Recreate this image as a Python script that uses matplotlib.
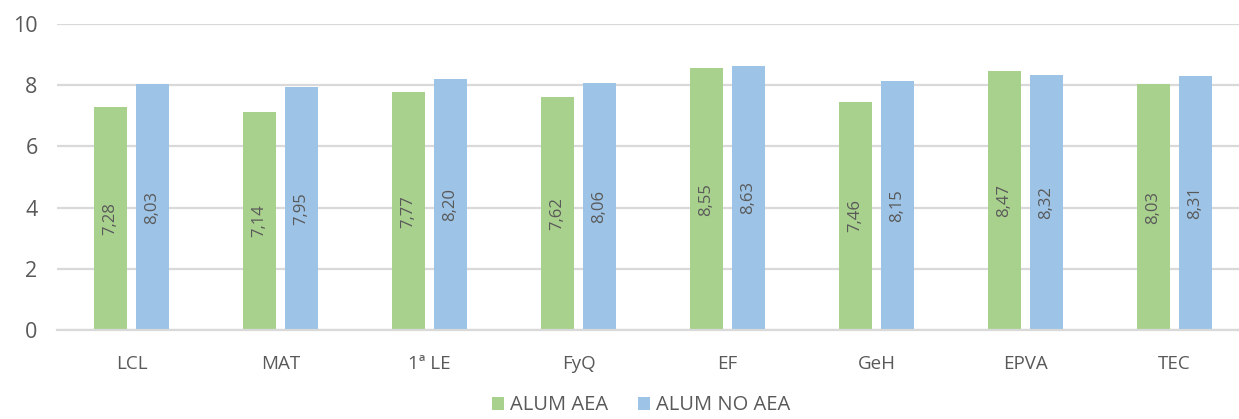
import matplotlib
matplotlib.use('Agg')
import matplotlib.pyplot as plt
import numpy as np

plt.rcParams['font.family'] = ['Open Sans', 'DejaVu Sans']

# data
categories = ['LCL', 'MAT', '1ª LE', 'FyQ', 'EF', 'GeH', 'EPVA', 'TEC']
alum_aea = [7.28, 7.14, 7.77, 7.62, 8.55, 7.46, 8.47, 8.03]
alum_no_aea = [8.03, 7.95, 8.20, 8.06, 8.63, 8.15, 8.32, 8.31]
series_names = ['ALUM AEA', 'ALUM NO AEA']

green = '#a9d18e'
blue = '#9dc3e6'
txt = '#595959'
grid = '#d9d9d9'

fig = plt.figure(figsize=(12.39, 4.19), dpi=100)
# plot area runs a little past the right edge, like the original
ax = fig.add_axes([0.046, 0.2124, 0.962, 0.7303])

x = np.arange(len(categories))
w = 0.222
off = 0.141
b1 = ax.bar(x - off, alum_aea, w, color=green, label=series_names[0], zorder=2)
b2 = ax.bar(x + off, alum_no_aea, w, color=blue, label=series_names[1], zorder=2)

for bars in (b1, b2):
    for r in bars:
        v = r.get_height()
        ax.text(r.get_x() + r.get_width() / 2, v / 2, ('%.2f' % v).replace('.', ','),
                rotation=90, ha='center', va='center', fontsize=12, color=txt, zorder=3)

ax.set_xlim(-0.5, len(categories) - 0.5)
ax.set_ylim(0, 10)
ax.set_yticks(range(0, 11, 2))
ax.set_xticks(x)
ax.set_xticklabels(categories)
ax.yaxis.grid(True, color=grid, linewidth=1.6, zorder=0)
ax.set_axisbelow(True)
for s in ['top', 'right', 'left']:
    ax.spines[s].set_visible(False)
ax.spines['bottom'].set_color(grid)
ax.spines['bottom'].set_linewidth(1.6)
ax.tick_params(axis='both', length=0, colors=txt)
ax.tick_params(axis='y', labelsize=15.5, pad=14)
ax.tick_params(axis='x', labelsize=13.5, pad=18)

ax.legend(loc='lower center', bbox_to_anchor=(0.49, -0.325), ncol=2, frameon=False,
          fontsize=14.5, labelcolor=txt, handlelength=0.6, handleheight=0.6,
          handletextpad=0.3, columnspacing=1.5, borderpad=0.2)

fig.savefig('out.png', dpi=100)
